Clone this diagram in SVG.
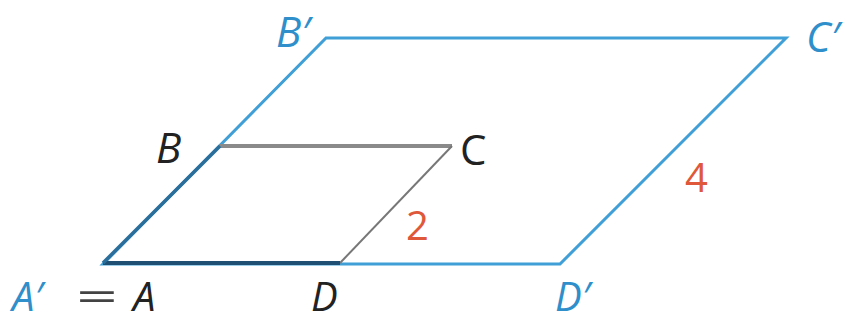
<svg xmlns="http://www.w3.org/2000/svg" width="846" height="322" viewBox="0 0 846 322">
<style>
.lbl{font-family:"Open Sans","Noto Sans","Liberation Sans",sans-serif;font-size:42px;font-style:italic}
.low{font-size:40px}
.blue{fill:#2f8fcb}
.dark{fill:#222}
.up{font-style:normal}
.num{font-family:"Open Sans","Noto Sans","Liberation Sans",sans-serif;font-size:40px;fill:#e0583a}
.bl{stroke:#3f9fd6;stroke-width:3;fill:none;stroke-linejoin:miter}
</style>
<rect width="846" height="322" fill="#fff"/>
<g id="image-parallelogram">
<polygon class="bl" points="103,264 326,38 786,38 560,264"/>
</g>
<g id="original-parallelogram" fill="none">
<line x1="220" y1="146" x2="452" y2="146" stroke="#8a8a8a" stroke-width="4"/>
<line x1="452" y1="146" x2="340" y2="263" stroke="#777" stroke-width="2"/>
<line x1="103" y1="263" x2="340" y2="263" stroke="#1f4f72" stroke-width="4"/>
<line x1="103" y1="263" x2="220" y2="146" stroke="#2a6f9c" stroke-width="3.5"/>
</g>
<g id="labels">
<text class="lbl blue" x="276" y="47">B′</text>
<text class="lbl blue" x="806" y="52">C′</text>
<text class="lbl dark" x="156" y="163">B</text>
<text class="lbl dark up" x="460" y="165">C</text>
<text class="lbl low blue" x="12" y="311">A′</text>
<text class="lbl low dark up" x="76" y="311" textLength="42" lengthAdjust="spacingAndGlyphs" fill-opacity="0.85">=</text>
<text class="lbl low dark" x="133" y="311">A</text>
<text class="lbl low dark" x="311" y="311">D</text>
<text class="lbl low blue" x="555" y="311">D′</text>
<text class="num" x="406" y="240">2</text>
<text class="num" x="685" y="192">4</text>
</g>
</svg>
